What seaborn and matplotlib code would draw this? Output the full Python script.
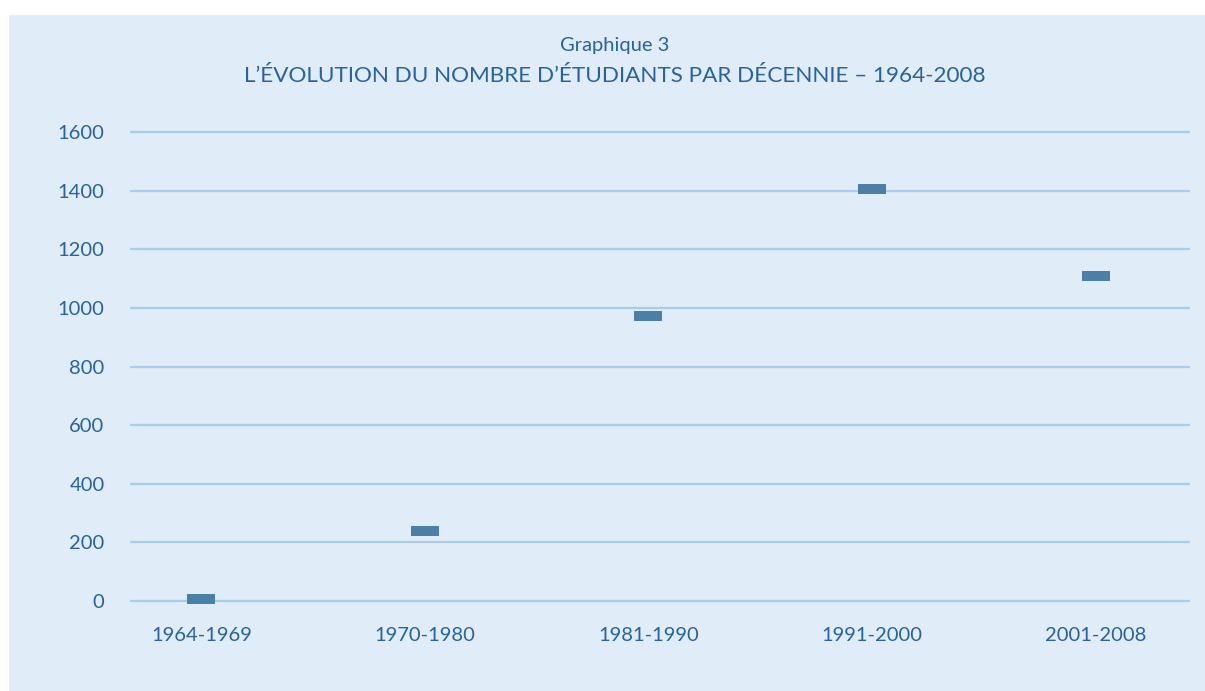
import matplotlib
matplotlib.use("Agg")
import matplotlib.pyplot as plt
from matplotlib.patches import Rectangle
import seaborn as sns
import pandas as pd

periodes = ["1964-1969", "1970-1980", "1981-1990", "1991-2000", "2001-2008"]
etudiants = [8, 240, 973, 1405, 1109]
yticks = [0, 200, 400, 600, 800, 1000, 1200, 1400, 1600]

bg = "#e0ecf8"
grid_col = "#a7cdec"
txt_col = "#2563a3"
mark_col = "#4a80a8"

sns.set_theme(style="white")
plt.rcParams["font.family"] = ["Lato", "DejaVu Sans"]

df = pd.DataFrame({"periode": periodes, "n": etudiants})

W, H = 1205, 691
fig = plt.figure(figsize=(W / 100, H / 100), dpi=100, facecolor="white")
fig.patches.append(Rectangle((9 / W, 0), 1 - 9 / W, 1 - 15 / H, transform=fig.transFigure,
                             facecolor=bg, edgecolor="none", zorder=-5))

ax = fig.add_axes([131 / W, 1 - 601 / H, (1189 - 131) / W, (601 - 132) / H])
ax.set_facecolor("none")

# flat rectangle marker
rect = [(-1.35, -0.5), (1.35, -0.5), (1.35, 0.5), (-1.35, 0.5), (-1.35, -0.5)]
sns.scatterplot(data=df, x="periode", y="n", marker=rect, s=19.5 ** 2,
                color=mark_col, linewidth=0, ax=ax, zorder=3, clip_on=False)

ax.set_ylim(0, 1600)
ax.set_xlim(-0.315, 4.418)
ax.set_yticks(yticks)
ax.set_yticklabels([str(v) for v in yticks])
for y in yticks:
    ax.axhline(y, color=grid_col, lw=1.6, zorder=1, clip_on=False)

for s in ax.spines.values():
    s.set_visible(False)
ax.tick_params(axis="both", length=0, labelsize=14.5, labelcolor=txt_col)
ax.tick_params(axis="y", pad=19)
ax.tick_params(axis="x", pad=19)
ax.set_xlabel("")
ax.set_ylabel("")

fig.text(615 / W, 1 - 45 / H, "Graphique 3", ha="center", va="center",
         fontsize=14.5, color=txt_col)
fig.text(615 / W, 1 - 76 / H, "L\u2019ÉVOLUTION DU NOMBRE D\u2019ÉTUDIANTS PAR DÉCENNIE \u2013 1964-2008",
         ha="center", va="center", fontsize=16.2, color=txt_col)

fig.savefig("out.png", dpi=100, facecolor="white")
